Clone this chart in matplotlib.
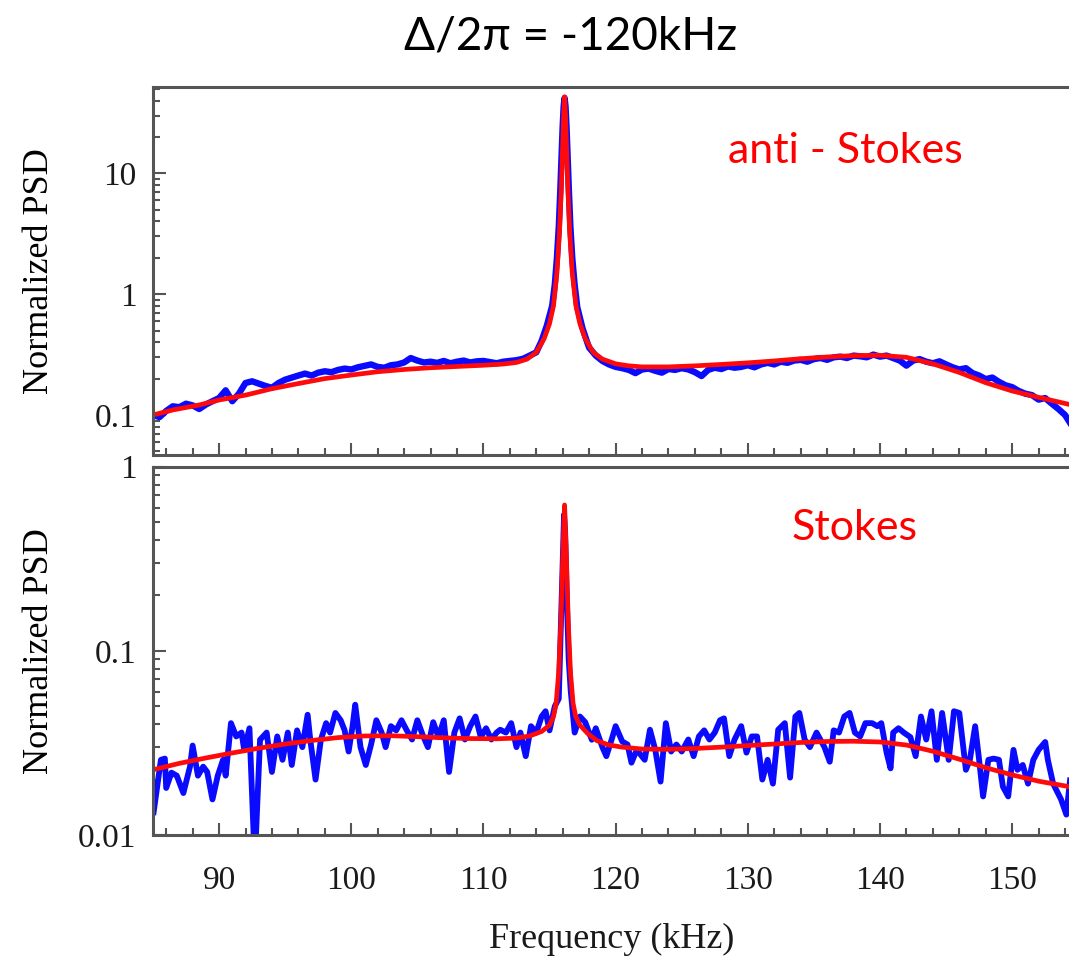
"""Normalized PSD spectra (anti-Stokes / Stokes) at detuning -120 kHz."""
import matplotlib
matplotlib.use("Agg")
import matplotlib.pyplot as plt
from matplotlib.ticker import MultipleLocator, FixedLocator, LogLocator, FuncFormatter, NullFormatter
import numpy as np

plt.rcParams.update({
    "font.family": ["Liberation Serif", "DejaVu Serif"],
    "font.size": 24,
})

# ---- top panel (anti-Stokes), measured PSD ----
as_data_x = [
    85.0, 85.5, 86.0, 86.5, 87.0, 87.5, 88.0, 88.5, 89.0, 89.5,
    90.0, 90.5, 91.0, 91.5, 92.0, 92.5, 93.0, 93.5, 94.0, 94.5,
    95.0, 95.5, 96.0, 96.5, 97.0, 97.5, 98.0, 98.5, 99.0, 99.5,
    100.0, 100.5, 101.0, 101.5, 102.0, 102.5, 103.0, 103.5, 104.0, 104.5,
    105.0, 105.5, 106.0, 106.5, 107.0, 107.5, 108.0, 108.5, 109.0, 109.5,
    110.0, 110.5, 111.0, 111.5, 112.0, 112.5, 113.0, 113.5, 114.0,
    114.4, 114.8, 115.2, 115.4, 115.56, 115.7, 115.81, 115.9, 115.99, 116.07,
    116.14, 116.21, 116.29, 116.38, 116.47, 116.58, 116.72, 116.9, 117.1, 117.5,
    117.85, 118.0,
    118.5, 119.0, 119.5, 120.0, 120.5, 121.0, 121.5, 122.0, 122.5, 123.0,
    123.5, 124.0, 124.5, 125.0, 125.5, 126.0, 126.5, 127.0, 127.5, 128.0,
    128.5, 129.0, 129.5, 130.0, 130.5, 131.0, 131.5, 132.0, 132.5, 133.0,
    133.5, 134.0, 134.5, 135.0, 135.5, 136.0, 136.5, 137.0, 137.5, 138.0,
    138.5, 139.0, 139.5, 140.0, 140.5, 141.0, 141.5, 142.0, 142.5, 143.0,
    143.5, 144.0, 144.5, 145.0, 145.5, 146.0, 146.5, 147.0, 147.5, 148.0,
    148.5, 149.0, 149.5, 150.0, 150.5, 151.0, 151.5, 152.0, 152.5, 153.0,
    153.5, 154.0, 154.5,
]
as_data_y = [
    0.100, 0.096, 0.108, 0.118, 0.116, 0.124, 0.120, 0.112, 0.122, 0.130,
    0.138, 0.160, 0.130, 0.150, 0.184, 0.190, 0.182, 0.174, 0.168, 0.184,
    0.196, 0.204, 0.212, 0.220, 0.212, 0.224, 0.230, 0.226, 0.236, 0.242,
    0.238, 0.248, 0.255, 0.262, 0.250, 0.246, 0.258, 0.262, 0.272, 0.296,
    0.282, 0.272, 0.276, 0.270, 0.280, 0.268, 0.276, 0.282, 0.272, 0.278,
    0.280, 0.274, 0.268, 0.276, 0.280, 0.284, 0.292, 0.310, 0.330,
    0.41, 0.55, 0.80, 1.2, 2.0, 3.6, 7.0, 13.0, 24.0, 36.0,
    42.0, 36.0, 24.0, 13.0, 7.0, 3.6, 2.0, 1.2, 0.78, 0.52,
    0.40, 0.36,
    0.310, 0.280, 0.262, 0.250, 0.244, 0.236, 0.222, 0.238, 0.242, 0.232,
    0.224, 0.240, 0.236, 0.244, 0.238, 0.226, 0.210, 0.236, 0.246, 0.240,
    0.252, 0.246, 0.250, 0.258, 0.248, 0.262, 0.270, 0.262, 0.276, 0.270,
    0.282, 0.286, 0.276, 0.290, 0.296, 0.286, 0.300, 0.304, 0.296, 0.310,
    0.306, 0.300, 0.316, 0.304, 0.310, 0.296, 0.282, 0.256, 0.282, 0.290,
    0.276, 0.268, 0.278, 0.262, 0.248, 0.238, 0.244, 0.222, 0.212, 0.198,
    0.204, 0.188, 0.176, 0.170, 0.158, 0.150, 0.146, 0.134, 0.138, 0.124,
    0.112, 0.100, 0.082,
]

# ---- top panel fit ----
as_fit_x = [
    85.0, 86.5, 88.5, 90.0, 92.0, 94.0, 96.0, 98.0, 100.0, 102.0,
    104.0, 106.0, 108.0, 110.0, 111.5, 112.5, 113.3, 114.0, 114.6, 115.0,
    115.3, 115.56, 115.75, 115.88, 115.99, 116.07, 116.14, 116.21, 116.29, 116.40,
    116.53, 116.72, 117.0, 117.3, 117.7, 118.3, 119.0, 120.0, 121.0, 122.0,
    124.0, 126.0, 128.0, 130.0, 132.0, 134.0, 136.0, 138.0, 140.0, 142.0,
    144.0, 146.0, 148.0, 150.0, 152.0, 154.5,
]
as_fit_y = [
    0.100, 0.110, 0.121, 0.133, 0.146, 0.165, 0.182, 0.200, 0.214, 0.228,
    0.238, 0.246, 0.252, 0.258, 0.264, 0.272, 0.290, 0.330, 0.430, 0.570,
    0.800, 1.5, 3.2, 7.0, 16.0, 30.0, 43.0, 30.0, 16.0, 7.0,
    3.2, 1.5, 0.800, 0.570, 0.430, 0.330, 0.290, 0.265, 0.255, 0.250,
    0.250, 0.255, 0.262, 0.270, 0.280, 0.292, 0.302, 0.310, 0.312, 0.300,
    0.265, 0.225, 0.185, 0.158, 0.140, 0.121,
]

# ---- bottom panel (Stokes), measured PSD ----
s_data_x = [
    85.05, 85.6, 85.9, 86.0, 86.4, 86.8, 87.3, 87.8, 88.0, 88.4,
    88.8, 89.1, 89.5, 89.9, 90.3, 90.5, 90.9, 91.3, 91.7, 91.9,
    92.3, 92.7, 93.1, 93.6, 94.0, 94.4, 94.8, 95.2, 95.5, 95.9,
    96.3, 96.7, 96.9, 97.3, 97.7, 98.1, 98.4, 98.8, 99.2, 99.5,
    99.8, 100.1, 100.3, 100.7, 101.1, 101.5, 101.9, 102.3, 102.6, 103.0,
    103.4, 103.8, 104.2, 104.6, 105.0, 105.4, 105.8, 106.2, 106.6, 107.0,
    107.4, 107.8, 108.2, 108.6, 109.0, 109.4, 109.8, 110.2, 110.6, 111.0,
    111.27, 111.7, 112.1, 112.5, 112.8, 113.2, 113.6, 114.0, 114.4, 114.7,
    115.0, 115.4, 115.7, 115.85, 116.0, 116.1, 116.18, 116.3, 116.45, 116.6,
    116.9, 117.3, 117.7, 118.2, 118.5, 119.0, 119.3, 119.7, 120.0, 120.5,
    120.9, 121.2, 121.6, 122.2, 122.6, 123.0, 123.4, 123.8, 124.2, 124.6,
    125.0, 125.5, 125.9, 126.3, 126.7, 127.1, 127.5, 127.9, 128.2, 128.6,
    129.0, 129.5, 129.9, 130.3, 130.7, 131.1, 131.5, 131.9, 132.3, 132.8,
    133.2, 133.6, 133.9, 134.3, 134.7, 135.2, 135.8, 136.2, 136.5, 136.9,
    137.3, 137.7, 138.1, 138.5, 138.9, 139.4, 139.8, 140.1, 140.5, 140.8,
    141.0, 141.4, 141.8, 142.3, 142.7, 143.1, 143.5, 143.9, 144.3, 144.7,
    145.2, 145.6, 146.0, 146.5, 146.8, 147.2, 147.5, 147.8, 148.2, 148.6,
    149.0, 149.3, 149.7, 150.1, 150.4, 150.8, 151.2, 151.6, 152.0, 152.5,
    152.7, 153.1, 153.7, 154.1, 154.5,
]
s_data_y = [
    0.0133, 0.0256, 0.0260, 0.0180, 0.0218, 0.0210, 0.0169, 0.0235, 0.0306, 0.0210,
    0.0235, 0.0220, 0.0156, 0.0210, 0.0256, 0.0210, 0.0405, 0.0343, 0.0360, 0.0290,
    0.0380, 0.0070, 0.0329, 0.0360, 0.0220, 0.0343, 0.0256, 0.0360, 0.0240, 0.0370,
    0.0300, 0.0450, 0.0329, 0.0200, 0.0329, 0.0405, 0.0360, 0.0460, 0.0420, 0.0370,
    0.0284, 0.0390, 0.0510, 0.0300, 0.0240, 0.0310, 0.0420, 0.0360, 0.0300, 0.0390,
    0.0370, 0.0420, 0.0370, 0.0330, 0.0420, 0.0350, 0.0300, 0.0410, 0.0340, 0.0420,
    0.0220, 0.0360, 0.0430, 0.0330, 0.0390, 0.0440, 0.0340, 0.0380, 0.0330, 0.0360,
    0.0373, 0.0360, 0.0405, 0.0300, 0.0360, 0.0268, 0.0390, 0.0360, 0.0440, 0.0470,
    0.0370, 0.0500, 0.0550, 0.1300, 0.3000, 0.5500, 0.4500, 0.2000, 0.0900, 0.0610,
    0.0360, 0.0440, 0.0410, 0.0329, 0.0380, 0.0300, 0.0268, 0.0330, 0.0390, 0.0322,
    0.0310, 0.0247, 0.0290, 0.0256, 0.0373, 0.0290, 0.0195, 0.0405, 0.0284, 0.0310,
    0.0284, 0.0330, 0.0268, 0.0343, 0.0370, 0.0330, 0.0360, 0.0420, 0.0430, 0.0268,
    0.0330, 0.0390, 0.0280, 0.0343, 0.0343, 0.0200, 0.0256, 0.0190, 0.0373, 0.0405,
    0.0205, 0.0440, 0.0460, 0.0330, 0.0300, 0.0360, 0.0300, 0.0250, 0.0370, 0.0360,
    0.0440, 0.0460, 0.0360, 0.0343, 0.0405, 0.0405, 0.0390, 0.0405, 0.0280, 0.0230,
    0.0360, 0.0380, 0.0360, 0.0340, 0.0268, 0.0440, 0.0330, 0.0470, 0.0256, 0.0460,
    0.0256, 0.0470, 0.0460, 0.0226, 0.0256, 0.0390, 0.0256, 0.0162, 0.0256, 0.0260,
    0.0256, 0.0183, 0.0162, 0.0290, 0.0226, 0.0240, 0.0190, 0.0256, 0.0290, 0.0320,
    0.0256, 0.0190, 0.0156, 0.0129, 0.0240,
]

# ---- bottom panel fit ----
s_fit_x = [
    85.0, 87.0, 89.0, 91.0, 93.0, 95.0, 97.0, 99.0, 101.0, 103.0,
    105.0, 107.0, 109.0, 111.0, 112.5, 113.5, 114.4, 115.0, 115.3, 115.5,
    115.69, 115.86, 115.99, 116.14, 116.29, 116.42, 116.59, 116.78, 116.98, 117.3,
    117.9, 118.6, 119.5, 120.5, 122.0, 124.0, 126.0, 128.0, 130.0, 132.0,
    134.0, 136.0, 138.0, 140.0, 142.0, 144.0, 146.0, 148.0, 150.0, 152.0,
    154.5,
]
s_fit_y = [
    0.0226, 0.0245, 0.0262, 0.0279, 0.0296, 0.0312, 0.0326, 0.0338, 0.0345, 0.0346,
    0.0342, 0.0337, 0.0334, 0.0333, 0.0336, 0.0345, 0.0365, 0.0395, 0.0440, 0.0520,
    0.0757, 0.141, 0.300, 0.620, 0.300, 0.141, 0.0757, 0.0520, 0.0440, 0.0395,
    0.0355, 0.0325, 0.0308, 0.0300, 0.0293, 0.0292, 0.0295, 0.0300, 0.0306, 0.0312,
    0.0318, 0.0322, 0.0323, 0.0320, 0.0308, 0.0285, 0.0258, 0.0232, 0.0212, 0.0196,
    0.0182,
]

top_yticks = [0.1, 1, 10]
bottom_yticks = [0.01, 0.1, 1]
xticks = [90, 100, 110, 120, 130, 140, 150]

DATA_COLOR = "#0a0aff"
FIT_COLOR = "#ff0a0a"
FRAME_COLOR = "#555555"


def style_axis(ax, yticks, show_xlabels):
    ax.set_yscale("log")
    ax.set_xlim(85.0, 154.3)
    ax.xaxis.set_major_locator(FixedLocator(xticks))
    ax.xaxis.set_minor_locator(MultipleLocator(2))
    ax.yaxis.set_major_locator(FixedLocator(yticks))
    ax.yaxis.set_minor_locator(LogLocator(base=10, subs=np.arange(2, 10)))
    ax.yaxis.set_major_formatter(FuncFormatter(lambda v, _: f"{v:g}"))
    ax.yaxis.set_minor_formatter(NullFormatter())
    ax.tick_params(axis="both", which="both", direction="in", color=FRAME_COLOR,
                   top=False, right=False, width=1.5, labelcolor="#1a1a1a")
    ax.tick_params(axis="both", which="major", length=9)
    ax.tick_params(axis="both", which="minor", length=5)
    ax.tick_params(axis="y", pad=12, labelsize=24)
    ax.tick_params(axis="x", pad=22, labelsize=24, labelbottom=show_xlabels)
    ax.spines["right"].set_visible(False)
    for s in ("left", "top", "bottom"):
        ax.spines[s].set_color(FRAME_COLOR)
        ax.spines[s].set_linewidth(2.2)
    ax.set_ylabel("Normalized PSD", fontsize=26)


fig = plt.figure(figsize=(10.69, 9.58), dpi=100)
ax1 = fig.add_axes([0.1431, 0.525, 0.8569, 0.3842])
ax2 = fig.add_axes([0.1431, 0.1284, 0.8569, 0.3844])

ax1.plot(as_data_x, as_data_y, color=DATA_COLOR, lw=4.6, solid_joinstyle="round")
ax1.plot(as_fit_x, as_fit_y, color=FIT_COLOR, lw=3.4)
style_axis(ax1, top_yticks, False)
ax1.set_ylim(0.0466, 51.8)

ax2.plot(s_data_x, s_data_y, color=DATA_COLOR, lw=4.2, solid_joinstyle="round")
ax2.plot(s_fit_x, s_fit_y, color=FIT_COLOR, lw=3.4)
style_axis(ax2, bottom_yticks, True)
ax2.set_ylim(0.01, 1.0)

ax1.yaxis.set_label_coords(-0.106, 0.5)
ax2.yaxis.set_label_coords(-0.106, 0.5)

sans = ["Lato", "DejaVu Sans"]
fig.text(571 / 1069, 1 - 49 / 958, "\u0394/2\u03c0 = -120kHz", ha="center", va="baseline",
         fontsize=33, family=sans)
fig.text(845 / 1069, 1 - 163 / 958, "anti - Stokes", ha="center", va="baseline",
         fontsize=31, color="#ff0000", family=sans)
fig.text(855 / 1069, 1 - 540 / 958, "Stokes", ha="center", va="baseline",
         fontsize=31, color="#ff0000", family=sans)
fig.text(612 / 1069, 1 - 948 / 958, "Frequency (kHz)", ha="center", va="baseline",
         fontsize=26, color="#1a1a1a")

fig.savefig("out.png", dpi=100)
